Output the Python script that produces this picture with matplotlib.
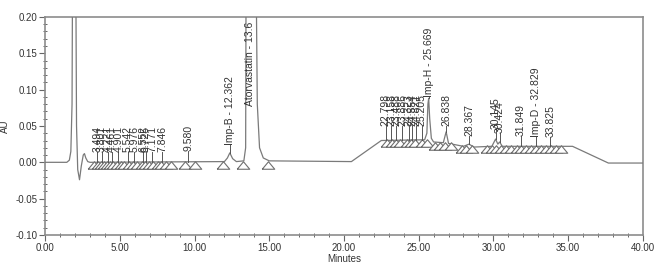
import matplotlib
matplotlib.use("Agg")
import matplotlib.pyplot as plt
from matplotlib.ticker import MultipleLocator, FormatStrFormatter

# trace vertices (minutes, AU)
trace_t = [0.0, 1.45, 1.62, 1.72, 1.8, 1.85, 2.03, 2.1, 2.18, 2.3, 2.42, 2.55, 2.63, 2.72, 2.85,
           3.0, 12.0, 12.2, 12.36, 12.55, 12.8, 13.3, 13.42, 13.46, 14.08, 14.2, 14.35, 14.6,
           15.0, 20.5, 22.5, 25.4, 25.55, 25.62, 25.67, 25.74, 25.85, 26.0, 26.65, 26.84,
           27.0, 28.0, 28.37, 28.7, 29.9, 30.15, 30.3, 30.42, 30.6, 35.3, 37.7, 40.0]
trace_au = [0.000, 0.000, 0.003, 0.015, 0.080, 0.350, 0.350, 0.050, -0.010, -0.024, -0.005,
            0.010, 0.012, 0.006, 0.001, 0.000,
            0.001, 0.006, 0.013, 0.005, 0.001, 0.002, 0.020, 0.350, 0.350, 0.080, 0.020,
            0.006, 0.002, 0.001, 0.030, 0.031, 0.040, 0.080, 0.088, 0.060, 0.033, 0.028,
            0.027, 0.042, 0.026, 0.022, 0.025, 0.021, 0.022, 0.032, 0.025, 0.028, 0.022, 0.022,
            -0.001, -0.001]

# peak labels
peak_rt = [3.494, 3.801, 4.221, 4.461, 4.901, 5.542, 5.976, 6.552, 6.725, 7.171, 7.846,
           9.580, 12.362, 13.7, 22.798, 23.158, 23.488, 23.886, 24.323, 24.554, 24.821,
           25.205, 25.669, 26.838, 28.367, 30.145, 30.424, 31.849, 32.829, 33.825]
peak_name = ["3.494", "3.801", "4.221", "4.461", "4.901", "5.542", "5.976", "6.552", "6.725",
             "7.171", "7.846", "9.580", "Imp-B - 12.362", "Atorvastatin - 13.6", "22.798",
             "23.158", "23.488", "23.886", "24.323", "24.554", "24.821", "25.205",
             "Imp-H - 25.669", "26.838", "28.367", "30.145", "30.424", "31.849",
             "Imp-D - 32.829", "33.825"]
peak_apex = [0.001] * 11 + [0.001, 0.013, 0.077] + [0.031] * 8 + \
            [0.088, 0.042, 0.025, 0.032, 0.028, 0.023, 0.023, 0.023]
label_base = [0.014] * 11 + [0.015, 0.024, 0.077] + [0.050] * 8 + \
             [0.090, 0.050, 0.036, 0.046, 0.040, 0.036, 0.035, 0.035]

# integration start/end triangles
tri_t = [3.25, 3.55, 3.75, 3.95, 4.15, 4.35, 4.55, 4.8, 5.05, 5.3, 5.6, 5.85, 6.15, 6.45,
         6.65, 6.95, 7.2, 7.55, 7.75, 8.1, 8.45, 9.35, 10.0, 11.93, 13.22, 14.94,
         22.85, 23.2, 23.5, 23.75, 24.2, 24.5, 24.75, 25.2, 25.55, 26.1, 26.4, 26.75, 27.15,
         27.9, 28.15, 28.6, 29.55, 29.9, 30.2, 30.5, 30.85, 31.2, 31.55, 31.85, 32.2, 32.55,
         32.85, 33.2, 33.5, 33.85, 34.2, 34.55]
tri_au = [-0.004] * 26 + [0.026] * 9 + [0.022] * 4 + [0.018] * 3 + [0.019] * 16

cor_linha = "#7a7a7a"
cor_texto = "#333333"
fonte = "Liberation Sans"

fig = plt.figure(figsize=(6.64, 2.63), dpi=100)
ax = fig.add_axes([0.068, 0.1065, 0.9, 0.829])

ax.plot(trace_t, trace_au, color=cor_linha, linewidth=0.9, zorder=3)

tri = [(-1, -0.6), (1, -0.6), (0, 0.6), (-1, -0.6)]
ax.plot(tri_t, tri_au, linestyle="none", marker=tri, markersize=9,
        markerfacecolor="white", markeredgecolor="#6e6e6e", markeredgewidth=0.8, zorder=4)

for rt, nome, apex, base in zip(peak_rt, peak_name, peak_apex, label_base):
    if base > apex:
        ax.plot([rt, rt], [apex, base], color="#555555", linewidth=0.7, zorder=5)
    ax.text(rt, base, nome, rotation=90, ha="center", va="bottom", fontsize=7.5,
            family=fonte, color=cor_texto, zorder=6)

ax.set_xlim(0, 40)
ax.set_ylim(-0.10, 0.20)
ax.xaxis.set_major_locator(MultipleLocator(5))
ax.xaxis.set_minor_locator(MultipleLocator(1))
ax.yaxis.set_major_locator(MultipleLocator(0.05))
ax.yaxis.set_minor_locator(MultipleLocator(0.01))
ax.xaxis.set_major_formatter(FormatStrFormatter("%.2f"))
ax.yaxis.set_major_formatter(FormatStrFormatter("%.2f"))
ax.tick_params(which="major", direction="out", length=4, width=0.8, color="#666666",
               labelsize=7, labelcolor=cor_texto, pad=1.5)
ax.tick_params(which="minor", direction="inout", length=3, width=0.7, color="#666666")
for lab in ax.get_xticklabels() + ax.get_yticklabels():
    lab.set_family(fonte)

for lado in ax.spines.values():
    lado.set_color("#8c8c8c")
    lado.set_linewidth(1.2)

ax.set_xlabel("Minutes", fontsize=7, family=fonte, color=cor_texto, labelpad=1)
ax.set_ylabel("AU", fontsize=7, family=fonte, color=cor_texto, labelpad=4)

fig.savefig("out.png", dpi=100)
